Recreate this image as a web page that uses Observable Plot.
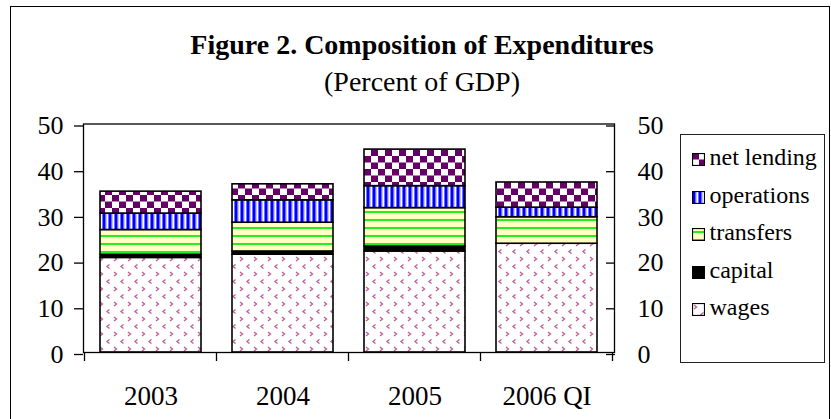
<!DOCTYPE html>
<html>
<head>
<meta charset="utf-8">
<script src="https://cdn.jsdelivr.net/npm/d3@7"></script>
<script src="https://cdn.jsdelivr.net/npm/@observablehq/plot@0.6"></script>
<style>
  html, body { margin: 0; padding: 0; background: #fff; }
  #chart { position: relative; width: 831px; height: 419px; overflow: hidden; background: #fff;
           font-family: 'Liberation Serif', serif; color: #000; }
  #chart text, #chart div { font-family: 'Liberation Serif', serif !important; }
  .outer { position: absolute; left: 10px; top: 6px; width: 820px; height: 440px;
           border: 1.5px solid #000; box-sizing: border-box; z-index: 0; }
  .plotwrap { position: absolute; left: 0; top: 0; z-index: 1; }
  .ttl { position: absolute; left: 422px; transform: translateX(-50%); white-space: nowrap;
         line-height: 1; z-index: 2; }
  .ttl.main { top: 30.5px; font-size: 28px; font-weight: bold; }
  .ttl.sub { top: 67.5px; font-size: 28px; font-weight: normal; }
  .legend { position: absolute; left: 679.5px; top: 133.5px; width: 145px; height: 229.5px;
            border: 1px solid #222; box-sizing: border-box; background: #fff; z-index: 2; }
  .legend .sw { position: absolute; left: 11px; width: 13px; height: 13px; }
  .legend .lb { position: absolute; left: 29px; font-size: 24px; line-height: 1; white-space: nowrap; }
</style>
</head>
<body>
<div id="chart"></div>
<script>
// ---- data ----
const years = ["2003", "2004", "2005", "2006 QI"];
const seriesNames = ["wages", "capital", "transfers", "operations", "net lending"];
const wages      = [20.7, 21.4, 22.1, 23.8];
const capital    = [0.7, 0.7, 1.1, 0.0];
const transfers  = [5.4, 6.3, 8.4, 5.8];
const operations = [3.6, 4.9, 4.8, 2.1];
const netLending = [4.8, 3.5, 8.0, 5.5];
const yTicks = [0, 10, 20, 30, 40, 50];
const legendOrder = ["net lending", "operations", "transfers", "capital", "wages"];
const titleText = "Figure 2. Composition of Expenditures";
const subtitleText = "(Percent of GDP)";

const seriesValues = {
  "wages": wages, "capital": capital, "transfers": transfers,
  "operations": operations, "net lending": netLending
};
const fills = {
  "wages": "url(#pat-wages)", "capital": "#000000", "transfers": "url(#pat-transfers)",
  "operations": "url(#pat-operations)", "net lending": "url(#pat-netlending)"
};

const data = [];
for (const s of seriesNames) {
  seriesValues[s].forEach((v, i) => data.push({year: years[i], series: s, value: v}));
}

// category boundary ticks, using Plot's band scale
function boundaryTicks(index, scales, values, dimensions) {
  const x = scales.x;
  const bw = x.bandwidth();
  const step = x.step ? x.step() : bw / (1 - 0.232);
  const y0 = dimensions.height - dimensions.marginBottom;
  const edges = years.map(c => x(c) - (step - bw) / 2);
  edges.push(x(years[years.length - 1]) + bw + (step - bw) / 2);
  const g = d3.create("svg:g");
  g.selectAll("line").data(edges).join("line")
    .attr("x1", d => d).attr("x2", d => d)
    .attr("y1", y0).attr("y2", y0 + 9)
    .attr("stroke", "#000").attr("stroke-width", 1.3);
  return g.node();
}

const svg = Plot.plot({
  width: 831,
  height: 419,
  marginLeft: 83,
  marginRight: 217,
  marginTop: 123.5,
  marginBottom: 67,
  style: {fontFamily: "'Liberation Serif', serif", background: "transparent", color: "#000", overflow: "visible"},
  x: {domain: years, paddingInner: 0.232, paddingOuter: 0.116, label: null},
  y: {domain: [0, 50], label: null},
  color: {type: "ordinal", domain: seriesNames, range: seriesNames.map(s => fills[s])},
  marks: [
    Plot.barY(data, {x: "year", y: "value", fill: "series", stroke: "#000", strokeWidth: 1.6}),
    Plot.frame({stroke: "#000", strokeWidth: 1.3}),
    Plot.axisY(yTicks, {anchor: "left", tickSize: 9, tickPadding: 11, fontSize: 26, dy: 2, label: null, strokeWidth: 1.3, fontFamily: "'Liberation Serif', serif"}),
    Plot.axisY(yTicks, {anchor: "right", tickSize: -9, tickPadding: 32, fontSize: 26, dy: 2, label: null, strokeWidth: 1.3, fontFamily: "'Liberation Serif', serif"}),
    Plot.axisX({tickSize: 0, tickPadding: 33, fontSize: 27, label: null, fontFamily: "'Liberation Serif', serif"}),
    boundaryTicks
  ]
});

// pattern definitions
const defs = d3.select(svg).insert("defs", ":first-child");
// wages: white with mauve chevrons
const pw = defs.append("pattern").attr("id", "pat-wages").attr("patternUnits", "userSpaceOnUse")
  .attr("width", 14).attr("height", 15);
pw.append("rect").attr("width", 14).attr("height", 15).attr("fill", "#ffffff");
pw.append("path").attr("d", "M2,2 L4.5,4 L2,6").attr("fill", "none").attr("stroke", "#c0609a").attr("stroke-width", 1.4);
pw.append("path").attr("d", "M11.5,9.5 L9,11.5 L11.5,13.5").attr("fill", "none").attr("stroke", "#c0609a").attr("stroke-width", 1.4);
// transfers: light yellow with green horizontal lines
const pt = defs.append("pattern").attr("id", "pat-transfers").attr("patternUnits", "userSpaceOnUse")
  .attr("width", 8).attr("height", 8);
pt.append("rect").attr("width", 8).attr("height", 8).attr("fill", "#ffffc4");
pt.append("rect").attr("y", 3).attr("width", 8).attr("height", 2).attr("fill", "#22ee22");
// operations: blue and white vertical stripes
const po = defs.append("pattern").attr("id", "pat-operations").attr("patternUnits", "userSpaceOnUse")
  .attr("width", 6).attr("height", 6);
po.append("rect").attr("width", 6).attr("height", 6).attr("fill", "#ffffff");
po.append("rect").attr("x", 0).attr("width", 1).attr("height", 6).attr("fill", "#7070ff");
po.append("rect").attr("x", 1).attr("width", 2.6).attr("height", 6).attr("fill", "#0000ff");
po.append("rect").attr("x", 3.6).attr("width", 0.8).attr("height", 6).attr("fill", "#7070ff");
// net lending: purple checkerboard
const pn = defs.append("pattern").attr("id", "pat-netlending").attr("patternUnits", "userSpaceOnUse")
  .attr("width", 14).attr("height", 13);
pn.append("rect").attr("width", 14).attr("height", 13).attr("fill", "#ffffff");
pn.append("rect").attr("width", 7).attr("height", 6.5).attr("fill", "#660066");
pn.append("rect").attr("x", 7).attr("y", 6.5).attr("width", 7).attr("height", 6.5).attr("fill", "#660066");

const chart = document.getElementById("chart");
const outer = document.createElement("div"); outer.className = "outer"; chart.appendChild(outer);
const wrap = document.createElement("div"); wrap.className = "plotwrap"; wrap.appendChild(svg); chart.appendChild(wrap);

const t1 = document.createElement("div"); t1.className = "ttl main"; t1.textContent = titleText; chart.appendChild(t1);
const t2 = document.createElement("div"); t2.className = "ttl sub"; t2.textContent = subtitleText; chart.appendChild(t2);

// legend
const legend = document.createElement("div"); legend.className = "legend"; chart.appendChild(legend);
const legendTop = 133.5;
legendOrder.forEach((name, i) => {
  const cy = 158.5 + 37.6 * i - legendTop;
  const sw = document.createElementNS("http://www.w3.org/2000/svg", "svg");
  sw.setAttribute("class", "sw"); sw.setAttribute("width", 13); sw.setAttribute("height", 13);
  sw.style.top = (cy - 6.5) + "px";
  const r = document.createElementNS("http://www.w3.org/2000/svg", "rect");
  r.setAttribute("x", 0.5); r.setAttribute("y", 0.5); r.setAttribute("width", 12); r.setAttribute("height", 12);
  r.setAttribute("fill", fills[name]); r.setAttribute("stroke", "#000"); r.setAttribute("stroke-width", 1.2);
  sw.appendChild(r); legend.appendChild(sw);
  const lb = document.createElement("div"); lb.className = "lb"; lb.textContent = name;
  lb.style.top = (cy + 5.5 - 20.1) + "px";
  legend.appendChild(lb);
});
</script>
</body>
</html>
